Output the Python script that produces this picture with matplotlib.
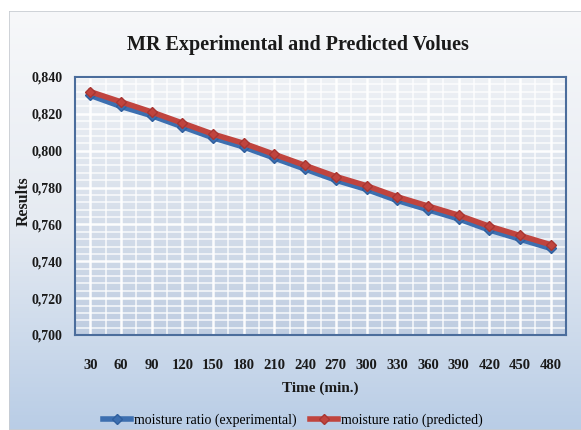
import numpy as np
import matplotlib
matplotlib.use("Agg")
import matplotlib.pyplot as plt
from matplotlib.ticker import MultipleLocator, FixedLocator, FuncFormatter
from matplotlib.patches import Rectangle

time_min = [30, 60, 90, 120, 150, 180, 210, 240, 270, 300, 330, 360, 390, 420, 450, 480]
mr_experimental = [0.830, 0.824, 0.819, 0.813, 0.807, 0.802, 0.796, 0.790,
                   0.784, 0.779, 0.773, 0.768, 0.763, 0.757, 0.752, 0.747]
mr_predicted = [0.832, 0.8265, 0.821, 0.815, 0.809, 0.804, 0.798, 0.792,
                0.786, 0.781, 0.775, 0.770, 0.765, 0.759, 0.754, 0.749]

title = "MR Experimental and Predicted Volues"
x_label = "Time (min.)"
y_label = "Results"
labels = ["moisture ratio (experimental)", "moisture ratio (predicted)"]

plt.rcParams["font.family"] = ["Liberation Serif", "DejaVu Serif"]
plt.rcParams["font.weight"] = "bold"

W, H = 581, 430
fig = plt.figure(figsize=(W / 100, H / 100), dpi=100)
fig.patch.set_facecolor("white")

# chart background with vertical gradient
bg = fig.add_axes([9 / W, 0, 1 - 9 / W, 1 - 11 / H])
bg.set_axis_off()
grad = np.linspace(0, 1, 256).reshape(-1, 1)
bg_cmap = matplotlib.colors.LinearSegmentedColormap.from_list(
    "bg", ["#f7f8fa", "#e6ebf2", "#b9cde6"])
bg.imshow(grad, aspect="auto", cmap=bg_cmap, extent=[0, 1, 0, 1], origin="upper")
bg.add_patch(Rectangle((0, 0), 1.2, 1, transform=bg.transAxes, fill=False,
                       edgecolor="#c8ccd2", linewidth=1.2))
bg.set_xlim(0, 1)
bg.set_ylim(0, 1)

# plot area
left, right, top, bottom = 75, 566, 77, 335
ax = fig.add_axes([left / W, 1 - bottom / H, (right - left) / W, (bottom - top) / H])
plot_cmap = matplotlib.colors.LinearSegmentedColormap.from_list(
    "plot", ["#eef1f5", "#d8e0eb", "#bfcde1"])
ax.imshow(grad, aspect="auto", cmap=plot_cmap, extent=[15, 495, 0.700, 0.840],
          origin="upper", zorder=0)

ax.set_xlim(15, 495)
ax.set_ylim(0.700, 0.840)

# gridlines
ax.xaxis.set_major_locator(FixedLocator(time_min))
ax.xaxis.set_minor_locator(FixedLocator([t + 15 for t in [0] + time_min[:-1]]))
ax.yaxis.set_major_locator(MultipleLocator(0.02))
ax.yaxis.set_minor_locator(MultipleLocator(0.004))
ax.grid(which="major", color="white", linewidth=1.8, alpha=0.95, zorder=1)
ax.grid(which="minor", color="white", linewidth=1.2, alpha=0.8, zorder=1)
ax.set_axisbelow(True)

ax.plot(time_min, mr_experimental, color="#3d6fb0", linewidth=4, marker="D",
        markersize=5.5, markeredgecolor="#2f5f9e", label=labels[0], zorder=3)
ax.plot(time_min, mr_predicted, color="#c0443e", linewidth=4, marker="D",
        markersize=5.5, markeredgecolor="#a83632", label=labels[1], zorder=4)

ax.yaxis.set_major_formatter(FuncFormatter(lambda v, p: f"{v:.3f}".replace(".", ",")))
ax.tick_params(which="both", length=0)
ax.tick_params(axis="x", pad=17, labelsize=10.5, colors="#1a1a1a")
ax.tick_params(axis="y", pad=9, labelsize=10, colors="#1a1a1a")
for s in ax.spines.values():
    s.set_color("#4b6d9c")
    s.set_linewidth(1.5)

fig.text(298 / W, 1 - 45 / H, title, ha="center", va="center", fontsize=14.5,
         fontweight="bold", color="#1a1a1a")
fig.text(24 / W, 1 - 201 / H, y_label, ha="center", va="center", rotation=90,
         fontsize=11.5, fontweight="bold", color="#1a1a1a")
fig.text(320 / W, 1 - 388 / H, x_label, ha="center", va="center", fontsize=11,
         fontweight="bold", color="#1a1a1a")

fig.legend(loc="center", bbox_to_anchor=(293 / W, 1 - 420 / H), ncol=2,
           frameon=False, handlelength=2.0, handletextpad=0.2,
           columnspacing=1.0, prop={"weight": "normal", "size": 10})

fig.savefig("out.png", dpi=100)
